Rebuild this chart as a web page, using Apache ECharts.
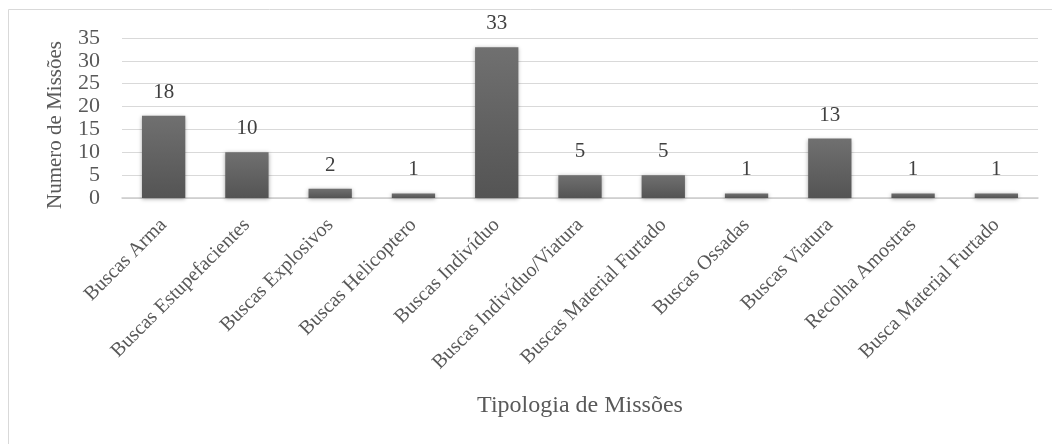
<!DOCTYPE html>
<html>
<head>
<meta charset="utf-8">
<script src="https://cdn.jsdelivr.net/npm/echarts@6/dist/echarts.min.js"></script>
<style>html,body{margin:0;padding:0;background:#fff}#c{width:1052px;height:444px}</style>
</head>
<body>
<div id="c"></div>
<script>
const categories = ["Buscas Arma","Buscas Estupefacientes","Buscas Explosivos","Buscas Helicoptero","Buscas Indivíduo","Buscas Indivíduo/Viatura","Buscas Material Furtado","Buscas Ossadas","Buscas Viatura","Recolha Amostras","Busca Material Furtado"];
const values = [18,10,2,1,33,5,5,1,13,1,1];
const yAxisName = "Numero de Missões";
const xAxisName = "Tipologia de Missões";

const FONT = "'Liberation Serif', 'Times New Roman', serif";
const chart = echarts.init(document.getElementById('c'), null, {renderer:'canvas'});
chart.setOption({
  animation:false,
  backgroundColor:'#ffffff',
  graphic:[
    {type:'rect', shape:{x:8.5,y:9.5,width:1200,height:600}, style:{fill:'none',stroke:'#d9d9d9',lineWidth:1}, silent:true, z:-1},
    {type:'text', x:55, y:125, rotation:Math.PI/2, style:{text:yAxisName, fontFamily:FONT, fontSize:21, fill:'#595959', align:'center', verticalAlign:'middle'}},
    {type:'text', x:580, y:406, style:{text:xAxisName, fontFamily:FONT, fontSize:24, fill:'#595959', align:'center', verticalAlign:'middle'}}
  ],
  grid:{left:122,right:14,top:38,bottom:246,containLabel:false},
  xAxis:{
    type:'category', data:categories,
    axisLine:{lineStyle:{color:'#cccccc',width:1.5}},
    axisTick:{show:false},
    axisLabel:{rotate:45,interval:0,margin:24,fontFamily:FONT,fontSize:20,color:'#595959'}
  },
  yAxis:{
    type:'value', min:0, max:35, interval:5,
    axisLine:{show:false}, axisTick:{show:false},
    axisLabel:{margin:22,fontFamily:FONT,fontSize:22,color:'#595959'},
    splitLine:{lineStyle:{color:'#d9d9d9',width:1}}
  },
  series:[{
    type:'bar', data:values, barWidth:'52%',
    itemStyle:{
      color:new echarts.graphic.LinearGradient(0,0,0,1,[{offset:0,color:'#707070'},{offset:1,color:'#545454'}]),
      shadowBlur:4, shadowColor:'rgba(0,0,0,0.35)', shadowOffsetX:0, shadowOffsetY:1
    },
    label:{show:true,position:'top',distance:13,fontFamily:FONT,fontSize:21,color:'#404040'}
  }]
});
</script>
</body>
</html>
